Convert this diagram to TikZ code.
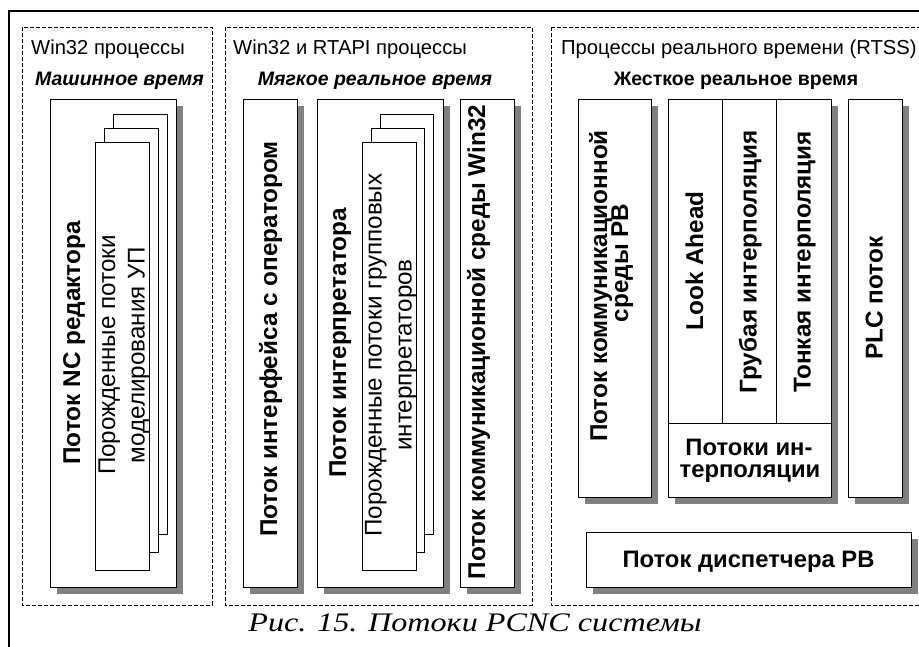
\documentclass[tikz,border=0pt]{standalone}
\usepackage{fontspec}
\setmainfont{Liberation Sans}
\newfontfamily\capserif{Liberation Serif}
\usetikzlibrary{shadows}
\definecolor{shade}{gray}{0.5}

\tikzset{
  frameline/.style={draw=black, line width=1.3pt},
  panel/.style={draw=black, line width=0.8pt, dash pattern=on 4pt off 2pt},
  thread/.style={draw=black, fill=white, line width=0.9pt, inner sep=0pt,
    anchor=north west,
    drop shadow={shadow xshift=7pt, shadow yshift=-7pt, fill=shade, opacity=1}},
  child/.style={draw=black, fill=white, line width=0.9pt, inner sep=0pt, anchor=north west},
  divider/.style={draw=black, line width=0.9pt},
  ptitle/.style={anchor=base west, inner sep=0pt, font=\fontsize{20.2}{24}\selectfont},
  psub/.style={anchor=base, inner sep=0pt, font=\bfseries\itshape\fontsize{19.5}{23}\selectfont},
  psubup/.style={anchor=base, inner sep=0pt, font=\bfseries\fontsize{19.5}{23}\selectfont},
  vbold/.style={rotate=90, anchor=base, inner sep=0pt, font=\bfseries\fontsize{24.3}{28}\selectfont},
  vreg/.style={rotate=90, anchor=base, inner sep=0pt, font=\fontsize{24.2}{28}\selectfont},
  hbold/.style={anchor=base, inner sep=0pt, font=\bfseries\fontsize{23.8}{26}\selectfont},
  caption/.style={anchor=base, inner sep=0pt, xscale=1.2, font=\capserif\itshape\fontsize{26.8}{30}\selectfont}
}

\begin{document}
\begin{tikzpicture}[x=1pt, y=-1pt]
\useasboundingbox (0,0) rectangle (919,646);
\clip (0,0) rectangle (919,646);

% outer frame (runs past the right and bottom edges)
\draw[frameline] (9,11) rectangle (950,680);

% process groups
\draw[panel] (22,27) rectangle (212,605);
\draw[panel] (225,27) rectangle (532,605);
\draw[panel] (551,27) rectangle (950,605);

\node[ptitle] (t1) at (31,54) {Win32 процессы};
\node[ptitle] (t2) at (233,54) {Win32 и RTAPI процессы};
\node[ptitle] (t3) at (561,54) {Процессы реального времени (RTSS)};

\node[psub] (s1) at (119.5,85) {Машинное время};
\node[psub] (s2) at (375,85) {Мягкое реальное время};
\node[psubup] (s3) at (736,85) {Жесткое реальное время};

% --- Win32 processes
\node[thread, minimum width=126, minimum height=488] (nc) at (50,99) {};
\node[child, minimum width=54, minimum height=420] (ncc3) at (113,114) {};
\node[child, minimum width=54, minimum height=424] (ncc2) at (104,128) {};
\node[child, minimum width=54, minimum height=428] (ncc1) at (95,142) {};
\node[vbold] (ncT) at (80,343) {Поток NC редактора};
\node[vreg] (ncL1) at (115,355) {Порожденные потоки};
\node[vreg] (ncL2) at (144.5,355) {моделирования УП};

% --- Win32 and RTAPI processes
\node[thread, minimum width=54, minimum height=488] (op) at (243,99) {};
\node[thread, minimum width=126, minimum height=488] (ip) at (317,99) {};
\node[child, minimum width=53, minimum height=420] (ipc3) at (380,114) {};
\node[child, minimum width=53, minimum height=424] (ipc2) at (371,128) {};
\node[child, minimum width=54, minimum height=428] (ipc1) at (362,142) {};
\node[thread, minimum width=54, minimum height=488] (wc) at (460,99) {};
\node[vbold] (opT) at (277,339) {Поток интерфейса с оператором};
\node[vbold] (ipT) at (346,343) {Поток интерпретатора};
\node[vreg] (ipL1) at (381.5,355) {Порожденные потоки групповых};
\node[vreg] (ipL2) at (411.5,355) {интерпретаторов};
\node[vbold] (wcT) at (485,342) {Поток коммуникационной среды Win32};

% --- real-time processes (RTSS)
\node[thread, minimum width=73, minimum height=398] (rb) at (578,99) {};
\node[thread, minimum width=163, minimum height=398] (grp) at (668,99) {};
\node[thread, minimum width=54, minimum height=398] (plc) at (848,99) {};
\node[thread, minimum width=325, minimum height=55] (dsp) at (586,532) {};

\coordinate (v1t) at (722,99);  \coordinate (v1b) at (722,423);
\coordinate (v2t) at (776,99);  \coordinate (v2b) at (776,423);
\coordinate (hl) at (668,423);  \coordinate (hr) at (831,423);
\draw[divider] (v1t) -- (v1b);
\draw[divider] (v2t) -- (v2b);
\draw[divider] (hl) -- (hr);

\node[vbold] (rbL1) at (607,286) {Поток коммуникационной};
\node[vbold] (rbL2) at (628,263) {среды РВ};
\node[vbold] (la) at (703,261) {Look Ahead};
\node[vbold] (gi) at (756.5,262) {Грубая интерполяция};
\node[vbold] (ti) at (810.5,262) {Тонкая интерполяция};
\node[hbold] (ip1) at (749,455) {Потоки ин-};
\node[hbold] (ip2) at (750,477) {терполяции};
\node[vbold] (plcT) at (882.5,298) {PLC поток};
\node[hbold] (dspT) at (748.5,567) {Поток диспетчера РВ};

\node[caption] (cap) at (475,631) {Рис. 15. Потоки PCNC системы};
\end{tikzpicture}
\end{document}
